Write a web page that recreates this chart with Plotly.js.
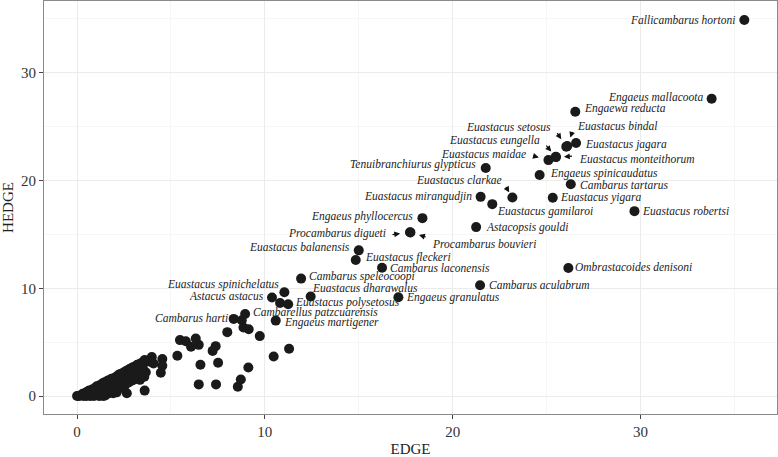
<!DOCTYPE html>
<html>
<head>
<meta charset="utf-8">
<script src="https://cdn.plot.ly/plotly-3.0.1.min.js"></script>
<style>html,body{margin:0;padding:0;background:#fff;}#chart{width:778px;height:457px;}</style>
</head>
<body>
<div id="chart"></div>
<script>
// Labelled species
const labelNames = [
  "Fallicambarus hortoni","Engaeus mallacoota","Engaewa reducta","Euastacus setosus","Euastacus bindal",
  "Euastacus jagara","Euastacus eungella","Euastacus maidae","Euastacus monteithorum","Engaeus spinicaudatus",
  "Cambarus tartarus","Euastacus yigara","Euastacus robertsi","Ombrastacoides denisoni","Tenuibranchiurus glypticus",
  "Euastacus clarkae","Euastacus mirangudjin","Euastacus gamilaroi","Engaeus phyllocercus","Astacopsis gouldi",
  "Procambarus digueti","Procambarus bouvieri","Euastacus balanensis","Euastacus fleckeri","Cambarus laconensis",
  "Cambarus speleocoopi","Cambarus aculabrum","Euastacus dharawalus","Engaeus granulatus","Euastacus spinichelatus",
  "Astacus astacus","Euastacus polysetosus","Cambarellus patzcuarensis","Engaeus martigener","Cambarus harti"
];
const labelEDGE = [
  35.53,33.79,26.53,26.05,26.10,
  26.57,25.49,25.10,25.50,24.63,
  26.29,25.33,29.68,26.16,21.76,
  23.18,21.49,22.11,18.39,21.25,
  17.73,17.75,15.00,14.84,16.24,
  11.93,21.46,12.44,17.11,11.04,
  10.38,11.24,8.95,10.58,8.34
];
const labelHEDGE = [
  34.90,27.60,26.39,23.15,23.20,
  23.49,22.20,21.90,22.18,20.52,
  19.66,18.40,17.16,11.88,21.17,
  18.43,18.49,17.81,16.51,15.68,
  15.21,15.19,13.52,12.62,11.91,
  10.90,10.28,9.23,9.17,9.63,
  9.14,8.52,7.62,7.00,7.16
];
// Unlabelled species
const otherEDGE = [
  10.81,8.77,8.86,9.14,8.0,9.73,11.29,10.47,9.12,8.72,8.56,5.48,5.79,6.32,6.48,6.07,7.38,7.22,5.34,6.57,7.51,6.48,7.4,
  3.98,4.54,4.07,4.54,4.46,3.6,2.65,3.58,3.66,3.49,3.89,2.11,2.2,1.58,1.93,0,
  0.2,0.3,0.4,0.45,0.5,0.55,0.6,0.65,0.7,0.75,0.8,0.85,0.9,0.95,1.0,1.0,1.05,1.1,1.15,1.2,
  1.2,1.25,1.3,1.35,1.4,1.45,1.5,1.5,1.55,1.6,1.65,1.7,1.75,1.8,1.85,1.9,1.95,2.0,2.05,2.1,
  2.15,2.2,2.25,2.3,2.35,2.4,2.45,2.5,2.55,2.6,2.65,2.7,2.75,2.8,2.85,2.9,2.95,3.0,3.05,3.1,
  3.15,3.2,3.25,3.3,3.35,3.4,3.45,3.5,3.55,
  0.1,0.35,0.7,0.9,1.4,1.1,0.6,1.6,1.3,2.0,2.5,2.7,3.0,2.2,1.9,1.7,1.2,0.8,2.8,2.4,3.2,3.6,2.9,2.3,1.8,1.4
];
const otherHEDGE = [
  8.64,7.04,6.36,6.2,5.93,5.56,4.38,3.67,2.65,1.54,0.86,5.19,5.09,5.34,4.75,4.57,4.63,4.19,3.73,2.9,3.08,1.08,1.08,
  3.61,3.43,3.02,2.81,2.16,0.5,0.25,1.79,2.2,2.56,3.18,0.34,0.86,0.25,0.25,0,
  0.05,0.2,0.1,0.3,0.0,0.4,0.15,0.5,0.3,0.05,0.6,0.4,0.2,0.75,0.5,0.1,0.9,0.35,0.7,0.0,
  1.0,0.55,0.2,1.15,0.8,0.4,1.3,0.05,0.95,0.6,1.45,0.25,1.15,0.75,1.6,0.45,1.3,0.9,1.75,1.45,
  0.6,1.95,1.1,1.7,0.8,2.1,1.4,1.9,1.0,2.3,1.6,2.05,1.25,2.5,1.8,2.25,1.45,2.7,2.0,2.5,
  1.6,2.9,2.2,2.7,1.5,3.05,2.4,2.85,3.2,
  0.0,0.0,0.0,0.0,0.0,0.05,0.45,1.2,0.9,1.6,2.2,2.4,2.4,1.3,1.1,0.9,0.6,0.3,2.0,1.6,2.6,3.35,2.6,2.05,1.55,1.2
];

// Label placement (style): side of point, pixel offsets
const labelSide = ["r","r","l","r","l","l","r","r","l","l","l","l","l","l","r","r","r","l","r","l","r","l","r","l","l","l","l","l","l","r","r","l","l","l","r"];
const labelDx = [-7,-7,7,-13,8,7,-14,-20,21,8,7,5,6,5,-8,-8,-7,3,-7,8,-22,20,-7,7,6,6,7,-1,6,-3,-6,5,6,6,-4];
const labelDy = [0,-1,-3,-20,-20,2,-16,-6,2,-1,1,0,0,-1,-3,-17,0,7,-2,0,1,11.7,-3,-3,0,-2,0,-9,0,-8,-2,-2,-1,2,-1];
// Arrows: label index, tail offset (px), standoff (px)
const arrowIdx = [3,4,6,7,8,15,20,21];
const arrowAx = [-10,5.6,-10.7,-16.6,17.6,-7.3,-19,16.7];
const arrowAy = [-15,-15.7,-12.7,-4.6,-1,-12,2.6,5];
const arrowStandoff = [9,9,7,10,8,6,10,9];

const serif = "'Liberation Serif', 'Times New Roman', serif";
const annotations = [];
labelNames.forEach((n, i) => {
  annotations.push({
    x: labelEDGE[i], y: labelHEDGE[i], xref: "x", yref: "y",
    text: "<i>" + n + "</i>", showarrow: false,
    xanchor: labelSide[i] === "l" ? "left" : "right", yanchor: "middle",
    xshift: labelDx[i], yshift: -labelDy[i],
    font: {family: serif, size: 11.5, color: "#222"}
  });
});
arrowIdx.forEach((k, j) => {
  annotations.push({
    x: labelEDGE[k], y: labelHEDGE[k], xref: "x", yref: "y",
    text: "", showarrow: true, ax: arrowAx[j], ay: arrowAy[j],
    arrowhead: 2, arrowsize: 0.9, arrowwidth: 1.3, arrowcolor: "#111",
    standoff: arrowStandoff[j]
  });
});

const traces = [
  {x: otherEDGE, y: otherHEDGE, type: "scatter", mode: "markers",
   marker: {size: 10, color: "#1a1a1a", line: {width: 0}}, hoverinfo: "skip"},
  {x: labelEDGE, y: labelHEDGE, type: "scatter", mode: "markers", text: labelNames,
   marker: {size: 10, color: "#1a1a1a", line: {width: 0}}}
];

const axisCommon = {
  tickvals: [0,10,20,30], showgrid: true, gridcolor: "#ebebeb", gridwidth: 1,
  minor: {tickvals: [5,15,25,35], showgrid: true, gridcolor: "#f6f6f6", gridwidth: 1, ticks: ""},
  zeroline: false, showline: true, linecolor: "#8a8a8a", linewidth: 1, mirror: true,
  ticks: "outside", ticklen: 4, tickcolor: "#444", tickwidth: 1,
  tickfont: {family: serif, size: 15, color: "#333"}
};

const layout = {
  width: 778, height: 457,
  margin: {l: 44, r: 1, t: 1, b: 43},
  paper_bgcolor: "#fff", plot_bgcolor: "#fff",
  showlegend: false,
  font: {family: serif},
  xaxis: Object.assign({}, axisCommon, {range: [-1.76, 37.27],
    title: {text: "EDGE", font: {family: serif, size: 15, color: "#222"}, standoff: 6}}),
  yaxis: Object.assign({}, axisCommon, {range: [-1.67, 36.67],
    title: {text: "HEDGE", font: {family: serif, size: 15, color: "#222"}, standoff: 8}}),
  annotations: annotations
};

Plotly.newPlot("chart", traces, layout, {displayModeBar: false, staticPlot: true});
</script>
</body>
</html>
